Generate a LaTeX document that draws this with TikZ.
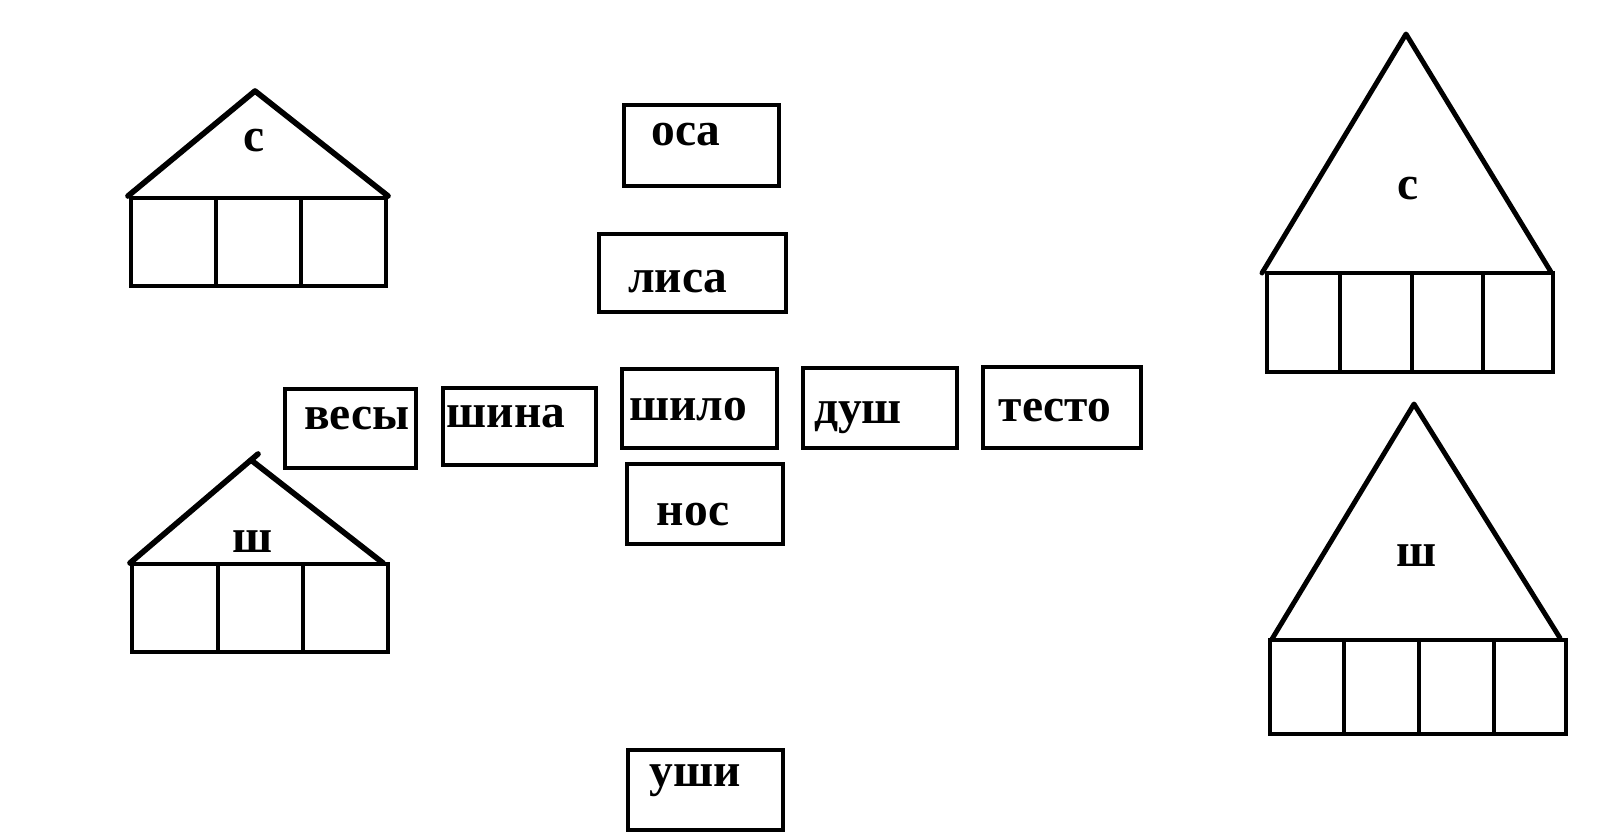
\documentclass[tikz,border=0pt]{standalone}
\usepackage{fontspec}
\setmainfont{Liberation Serif}
\begin{document}
\begin{tikzpicture}[x=0.01cm, y=-0.01cm,
  card/.style={draw, line width=1.1pt},
  word/.style={anchor=base, font=\fontsize{13.5}{15}\selectfont\bfseries},
  roof/.style={line width=1.6pt, line join=round, line cap=round},
  wall/.style={line width=1.1pt}
]
\useasboundingbox (0,0) rectangle (1621,840);

% small houses
\draw[roof] (128,196) -- (255,91) -- (388,196);
\draw[wall] (131,198) rectangle (386,286);
\foreach \x in {216,301} \draw[wall] (\x,198) -- (\x,286);
\node[word] (hsmallS) at (254,152) {с};

\draw[roof] (130,563) -- (258,454);
\draw[roof] (251,460) -- (383,563);
\draw[wall] (132,564) rectangle (388,652);
\foreach \x in {218,303} \draw[wall] (\x,564) -- (\x,652);
\node[word] (hsmallSh) at (253,552) {ш};

% big houses
\draw[roof, line width=1.4pt] (1262,273) -- (1406,34) -- (1551,272);
\draw[wall] (1267,273) rectangle (1553,372);
\foreach \x in {1340,1412,1483} \draw[wall] (\x,273) -- (\x,372);
\node[word] (hbigS) at (1408,200) {с};

\draw[roof, line width=1.4pt] (1272,639) -- (1414,404) -- (1560,638);
\draw[wall] (1270,640) rectangle (1566,734);
\foreach \x in {1344,1419,1494} \draw[wall] (\x,640) -- (\x,734);
\node[word] (hbigSh) at (1417,567) {ш};

% word cards
\draw[card] (624,105) rectangle (779,186);
\node[word] (osa) at (686,146) {оса};
\draw[card] (599,234) rectangle (786,312);
\node[word] (lisa) at (678,293) {лиса};
\draw[card] (285,389) rectangle (416,468);
\node[word] (vesy) at (357,430) {весы};
\draw[card] (443,388) rectangle (596,465);
\node[word] (shina) at (506,428) {шина};
\draw[card] (622,369) rectangle (777,448);
\node[word] (shilo) at (688,421) {шило};
\draw[card] (803,368) rectangle (957,448);
\node[word] (dush) at (858,424) {душ};
\draw[card] (983,367) rectangle (1141,448);
\node[word] (testo) at (1055,422) {тесто};
\draw[card] (627,464) rectangle (783,544);
\node[word] (nos) at (693,525) {нос};
\draw[card] (628,750) rectangle (783,830);
\node[word] (ushi) at (695,786) {уши};
\end{tikzpicture}
\end{document}
